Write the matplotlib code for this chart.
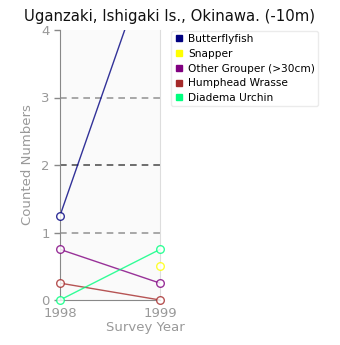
import matplotlib
matplotlib.use("Agg")
import matplotlib.pyplot as plt
import numpy as np
from matplotlib.lines import Line2D

years = [1998, 1999]
species = ["Butterflyfish", "Snapper", "Other Grouper (>30cm)", "Humphead Wrasse", "Diadema Urchin"]
counts = [
    [1.25, 5.5],
    [np.nan, 0.5],
    [0.75, 0.25],
    [0.25, 0.0],
    [0.0, 0.75],
]
colors = ["#000080", "#ffff00", "#800080", "#a52a2a", "#00ff7f"]
y_ticks = [0, 1, 2, 3, 4]

fig = plt.figure(figsize=(3.4, 3.45), dpi=100)
ax = fig.add_axes([60 / 340, 1 - 300 / 345, 100 / 340, 270 / 345])
ax.set_facecolor("#fafafa")

# grid lines, alternating shades
for y, c in [(1, "#999999"), (2, "#555555"), (3, "#999999")]:
    ax.axhline(y, color=c, lw=1.2, ls=(0, (4, 3)), zorder=1)

for vals, col in zip(counts, colors):
    vals = np.array(vals, dtype=float)
    ax.plot(years, vals, color=col, lw=1, alpha=0.8, zorder=2)
    inside = [(x, v) for x, v in zip(years, vals) if not np.isnan(v) and v <= 4]
    if inside:
        xs, vs = zip(*inside)
        ax.plot(xs, vs, ls="none", marker="o", ms=5.5, mfc="white",
                mec=col, mew=1, alpha=0.8, clip_on=False, zorder=3)

ax.set_xlim(1998, 1999)
ax.set_ylim(0, 4)
ax.set_xticks(years)
ax.set_xticklabels([str(y) for y in years])
ax.set_yticks(y_ticks)
ax.tick_params(colors="#888888", labelcolor="#999999", labelsize=9.5, length=4, width=1)
ax.tick_params(axis="x", length=0, pad=5)

for s in ["left", "bottom"]:
    ax.spines[s].set_color("#888888")
ax.spines["right"].set_color("#dddddd")
ax.spines["top"].set_visible(False)

fig.text(28 / 340, 1 - 165 / 345, "Counted Numbers", rotation=90, ha="center",
         va="center", color="#999999", fontsize=9.5)
fig.text(145 / 340, 1 - 327 / 345, "Survey Year", ha="center", va="center",
         color="#999999", fontsize=9.5)
fig.text(0.5, 1 - 17 / 345, "Uganzaki, Ishigaki Is., Okinawa. (-10m)",
         ha="center", va="center", fontsize=10.7, color="#111111")

handles = [Line2D([], [], ls="none", marker="s", ms=4.5, mfc=c, mec=c) for c in colors]
leg = fig.legend(handles, species, loc="upper left", bbox_to_anchor=(171 / 340, 1 - 31 / 345),
                 fontsize=7.6, frameon=True, fancybox=True, shadow=False,
                 edgecolor="#e6e6e6", handletextpad=0.35, labelspacing=0.45,
                 handlelength=1.0, borderpad=0.3, borderaxespad=0)
leg.get_frame().set_linewidth(1)

fig.savefig("out.png", dpi=100)
